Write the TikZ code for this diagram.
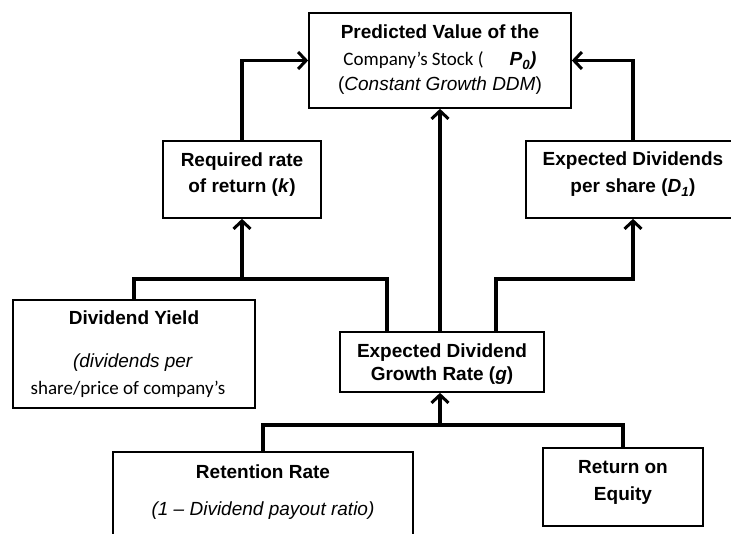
\documentclass[tikz,border=0pt]{standalone}
\usepackage{fontspec}
\setmainfont{Liberation Sans}
\newfontfamily\calfont{Carlito}
\usetikzlibrary{arrows.meta}
\begin{document}
\begin{tikzpicture}[x=1pt,y=-1pt,
  box/.style={draw, line width=1.7pt, rectangle, inner sep=0pt, fill=white},
  conn/.style={line width=3.4pt, line join=miter},
  arr/.style={conn, -{Straight Barb[length=8pt,width=17pt,line width=3pt]}},
  txt/.style={anchor=base, inner sep=0pt, font=\fontsize{19}{23}\selectfont}]
\useasboundingbox (0,0) rectangle (731,534);
\clip (0,0) rectangle (731,534);
% boxes
\node[box, minimum width=262pt, minimum height=95pt] (top) at (440,60.5) {};
\node[box, minimum width=158pt, minimum height=77pt] (req) at (242,179.5) {};
\node[box, minimum width=214pt, minimum height=77pt] (ed) at (633,179.5) {};
\node[box, minimum width=242pt, minimum height=108pt] (dy) at (134,354) {};
\node[box, minimum width=204pt, minimum height=60pt] (growth) at (442,362) {};
\node[box, minimum width=300pt, minimum height=93pt] (ret) at (263,498.5) {};
\node[box, minimum width=160pt, minimum height=78pt] (roe) at (623,487) {};
% junctions
\coordinate (jl) at (387,279);
\coordinate (jr) at (496,279);
\coordinate (jb) at (440,425);
% connectors
\draw[arr] (req.north) |- (top.west);
\draw[arr] (ed.north) |- (top.east);
\draw[arr] (growth.north -| top.south) -- (top.south);
\draw[conn] (growth.north -| jl) -- (jl) -| (dy.north);
\draw[arr] (jl -| req.south) -- (req.south);
\draw[arr] (growth.north -| jr) -- (jr) -| (ed.south);
\draw[conn] (ret.north) |- (jb) -| (roe.north);
\draw[arr] (jb) -- (growth.south -| jb);
% texts
\node[txt] at (440,39) {\textbf{Predicted Value of the}};
\node[txt] at (440,66) {{\calfont Company’s Stock (}\hspace{26pt}\textbf{\textit{P\textsubscript{0})}}};
\node[txt] at (440,91) {(\textit{Constant Growth DDM})};
\node[txt] at (242,167) {\textbf{Required rate}};
\node[txt] at (242,193) {\textbf{of return (\textit{k})}};
\node[txt] at (633,166) {\textbf{Expected Dividends}};
\node[txt] at (633,193) {\textbf{per share (\textit{D\textsubscript{1}})}};
\node[txt] at (134,325) {\textbf{Dividend Yield}};
\node[txt] at (133,368) {\textit{(dividends per}};
\node[txt] at (128,395) {\calfont share/price of company’s};
\begin{scope}
\clip (growth.north west) rectangle (growth.south east);
\node[txt] at (442,358) {\textbf{Expected Dividend}};
\node[txt] at (442,381) {\textbf{Growth Rate (\textit{g})}};
\end{scope}
\node[txt] at (263,478) {\textbf{Retention Rate}};
\node[txt] at (263,515) {\textit{(1 – Dividend payout ratio)}};
\node[txt] at (623,473) {\textbf{Return on}};
\node[txt] at (623,500) {\textbf{Equity}};
\end{tikzpicture}
\end{document}
